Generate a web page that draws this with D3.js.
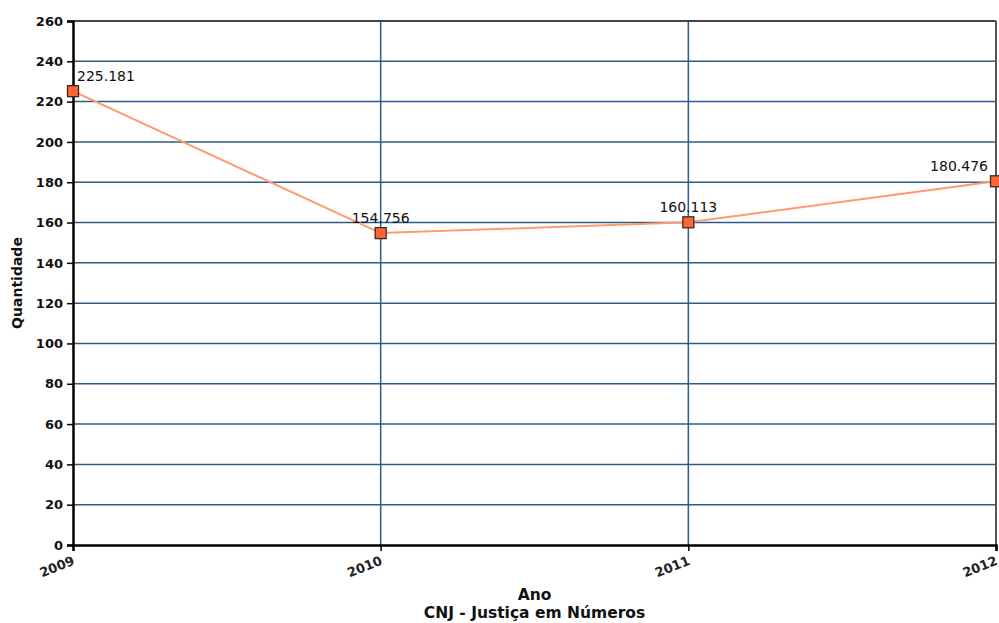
<!DOCTYPE html>
<html>
<head>
<meta charset="utf-8">
<script src="https://cdn.jsdelivr.net/npm/d3@7/dist/d3.min.js"></script>
<style>
  html, body { margin: 0; padding: 0; background: #fff; }
  svg { display: block; }
</style>
</head>
<body>
<svg id="chart" width="999" height="623"></svg>
<script>
// Quantidade por ano (milhares)
const years = ["2009", "2010", "2011", "2012"];
const values = [225.181, 154.756, 160.113, 180.476];
const valueLabels = ["225.181", "154.756", "160.113", "180.476"];
const yTicks = [0, 20, 40, 60, 80, 100, 120, 140, 160, 180, 200, 220, 240, 260];

const W = 999, H = 623;
const m = { left: 73, right: 3, top: 21, bottom: 78 };
const svg = d3.select("#chart");

const x = d3.scalePoint().domain(years).range([m.left, W - m.right]);
const y = d3.scaleLinear().domain([0, 260]).range([H - m.bottom, m.top]);

const gridColor = "#2d5b8c";
const fontBold = "'DejaVu Sans', Verdana, sans-serif";

// horizontal grid
svg.append("g").selectAll("line")
  .data(yTicks.filter(t => t > 0 && t < 260))
  .join("line")
  .attr("x1", m.left).attr("x2", W - m.right)
  .attr("y1", d => y(d)).attr("y2", d => y(d))
  .attr("stroke", gridColor).attr("stroke-width", 1.5);

// vertical grid
svg.append("g").selectAll("line")
  .data(years.slice(1, -1))
  .join("line")
  .attr("x1", d => x(d)).attr("x2", d => x(d))
  .attr("y1", m.top).attr("y2", H - m.bottom)
  .attr("stroke", gridColor).attr("stroke-width", 1.5);

// frame: top and right
svg.append("line")
  .attr("x1", m.left).attr("x2", W - m.right)
  .attr("y1", y(260)).attr("y2", y(260))
  .attr("stroke", "#444").attr("stroke-width", 2);
svg.append("line")
  .attr("x1", x("2012")).attr("x2", x("2012"))
  .attr("y1", m.top).attr("y2", H - m.bottom)
  .attr("stroke", "#555").attr("stroke-width", 2);

// y axis
const yAxis = svg.append("g")
  .attr("transform", `translate(${m.left},0)`)
  .call(d3.axisLeft(y).tickValues(yTicks).tickSize(6).tickPadding(4).tickFormat(d3.format("d")));
yAxis.select(".domain").attr("stroke", "#000").attr("stroke-width", 2.5);
yAxis.selectAll(".tick line").attr("stroke", "#000").attr("stroke-width", 1.5);
yAxis.selectAll(".tick text")
  .attr("font-family", fontBold).attr("font-weight", "bold")
  .attr("font-size", 13).attr("fill", "#111");

// x axis
const xAxis = svg.append("g")
  .attr("transform", `translate(0,${H - m.bottom})`)
  .call(d3.axisBottom(x).tickSize(6).tickPadding(4));
xAxis.select(".domain").attr("stroke", "#000").attr("stroke-width", 2.5);
xAxis.selectAll(".tick line").attr("stroke", "#000").attr("stroke-width", 1.5);
xAxis.selectAll(".tick text")
  .attr("font-family", fontBold).attr("font-weight", "bold")
  .attr("font-size", 13).attr("fill", "#222")
  .attr("text-anchor", "end")
  .attr("x", 0).attr("y", 0).attr("dy", 0)
  .attr("transform", "translate(2,19) rotate(-22)");

// line
const pts = years.map((yr, i) => ({ yr, v: values[i], label: valueLabels[i] }));
svg.append("path")
  .datum(pts)
  .attr("fill", "none")
  .attr("stroke", "#ff9a70")
  .attr("stroke-width", 2)
  .attr("d", d3.line().x(d => x(d.yr)).y(d => y(d.v)));

// markers
const s = 11;
svg.append("g").selectAll("rect")
  .data(pts)
  .join("rect")
  .attr("x", d => x(d.yr) - s / 2).attr("y", d => y(d.v) - s / 2)
  .attr("width", s).attr("height", s)
  .attr("fill", "#ff6633").attr("stroke", "#3a2a20").attr("stroke-width", 1.3);

// value labels
svg.append("g").selectAll("text")
  .data(pts)
  .join("text")
  .attr("x", (d, i) => i === 0 ? x(d.yr) + 4 : i === pts.length - 1 ? x(d.yr) - 8 : x(d.yr))
  .attr("y", d => y(d.v) - 10)
  .attr("text-anchor", (d, i) => i === 0 ? "start" : i === pts.length - 1 ? "end" : "middle")
  .attr("font-family", "'DejaVu Sans', Verdana, sans-serif")
  .attr("font-size", 14).attr("fill", "#111")
  .text(d => d.label);

// axis titles
svg.append("text")
  .attr("transform", `translate(22,${(m.top + H - m.bottom) / 2}) rotate(-90)`)
  .attr("text-anchor", "middle")
  .attr("font-family", fontBold).attr("font-weight", "bold")
  .attr("font-size", 14).attr("fill", "#111")
  .text("Quantidade");

const cx = (m.left + W - m.right) / 2;
svg.append("text")
  .attr("x", cx).attr("y", 600)
  .attr("text-anchor", "middle")
  .attr("font-family", fontBold).attr("font-weight", "bold")
  .attr("font-size", 15.5).attr("fill", "#111")
  .text("Ano");
svg.append("text")
  .attr("x", cx).attr("y", 618)
  .attr("text-anchor", "middle")
  .attr("font-family", fontBold).attr("font-weight", "bold")
  .attr("font-size", 15.5).attr("fill", "#111")
  .text("CNJ - Justiça em Números");
</script>
</body>
</html>
